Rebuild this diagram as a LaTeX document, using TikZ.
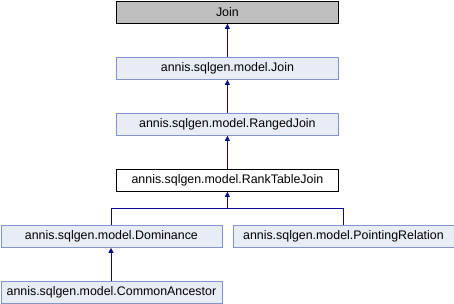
\documentclass[tikz,border=0pt]{standalone}
\usepackage{fontspec}
\setmainfont{Liberation Sans}
\usetikzlibrary{arrows.meta}
\definecolor{boxfill}{HTML}{E8ECF5}
\definecolor{boxline}{HTML}{8094D0}
\definecolor{basefill}{HTML}{BFBFBF}
\definecolor{linkblue}{HTML}{0A0A96}
\begin{document}
\begin{tikzpicture}[x=1pt,y=-1pt,
  cls/.style={draw=boxline,fill=boxfill,line width=0.8pt,minimum height=22pt,
    inner sep=0pt,anchor=north west,font=\fontsize{12.4}{14}\selectfont},
  base/.style={cls,draw=black,fill=basefill},
  cur/.style={cls,draw=black,fill=white},
  link/.style={draw=linkblue,line width=0.8pt},
  inherit/.style={link,{Triangle[length=5pt,width=5pt]}-}]
\useasboundingbox (0,0) rectangle (454,304);
\node[base,minimum width=222pt] (join) at (116,1) {Join};
\node[cls,minimum width=222pt] (mjoin) at (116,57) {annis.sqlgen.model.Join};
\node[cls,minimum width=222pt] (ranged) at (116,113) {annis.sqlgen.model.RangedJoin};
\node[cur,minimum width=222pt] (rank) at (116,169) {annis.sqlgen.model.RankTableJoin};
\node[cls,minimum width=221pt] (dom) at (0.5,225) {annis.sqlgen.model.Dominance};
\node[cls,minimum width=221pt] (point) at (232.5,225) {annis.sqlgen.model.PointingRelation};
\node[cls,minimum width=221pt] (anc) at (0.5,281) {annis.sqlgen.model.CommonAncestor};
\draw[inherit] (join.south) -- (mjoin.north);
\draw[inherit] (mjoin.south) -- (ranged.north);
\draw[inherit] (ranged.south) -- (rank.north);
% bus line shared by the two subclasses of RankTableJoin
\coordinate (split) at ([yshift=-17pt]rank.south);
\coordinate (domx) at (111,0);
\coordinate (pointx) at (343,0);
\draw[inherit] (rank.south) -- (split);
\draw[link] (dom.north -| domx) |- (split) -| (point.north -| pointx);
\draw[inherit] (dom.south -| domx) -- (anc.north -| domx);
\end{tikzpicture}
\end{document}
